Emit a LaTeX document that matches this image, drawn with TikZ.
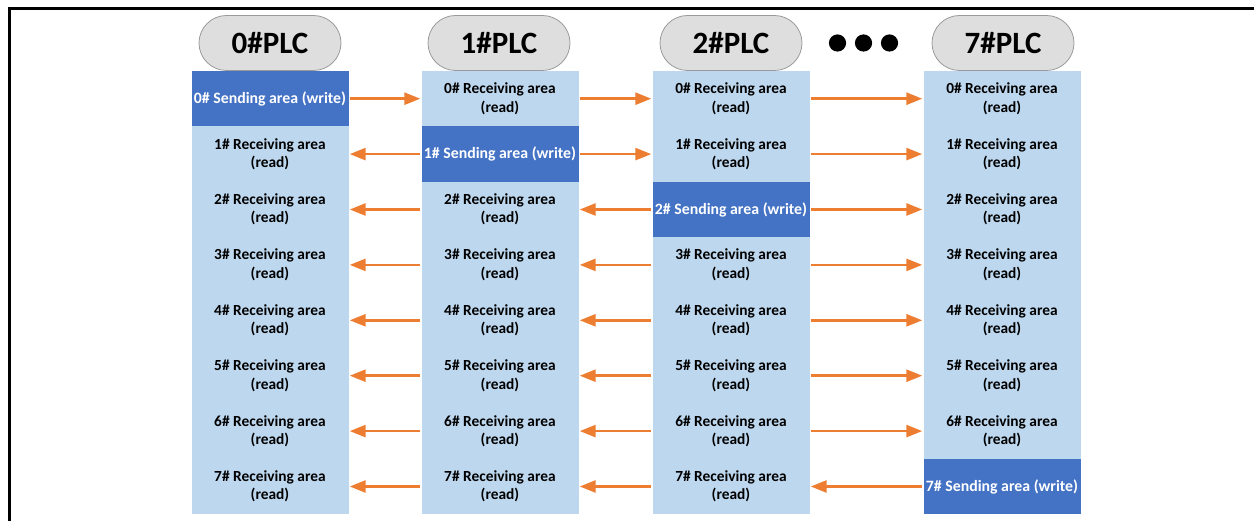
\documentclass[tikz,border=0pt]{standalone}
\usepackage{fontspec}
\setmainfont{Carlito}
\usetikzlibrary{arrows.meta,shapes.misc}
\definecolor{lightcell}{HTML}{BDD7EE}
\definecolor{darkcell}{HTML}{4472C4}
\definecolor{pillfill}{HTML}{DEDEDE}
\definecolor{pillline}{HTML}{9A9A9A}
\definecolor{arrorange}{HTML}{ED7D31}
\tikzset{
  cellbox/.style={rectangle, fill=lightcell, minimum width=157pt, minimum height=55.4pt,
    inner sep=0pt, align=center, text=black,
    font=\bfseries\fontsize{15.4}{18.4}\selectfont},
  sendbox/.style={cellbox, fill=darkcell, text=white,
    font=\bfseries\fontsize{15.8}{18.4}\selectfont},
  pill/.style={rounded rectangle, draw=pillline, line width=0.8pt, fill=pillfill,
    minimum width=142pt, minimum height=55pt, inner sep=0pt,
    font=\bfseries\fontsize{31}{34}\selectfont},
  arr/.style={draw=arrorange, line width=2.6pt, -{Triangle[length=16pt,width=12pt]}, shorten >=1pt, shorten <=1pt},
  frameline/.style={line width=3pt, black},
}
\begin{document}
\begin{tikzpicture}[x=1pt,y=-1pt]
\useasboundingbox (0,0) rectangle (1254,521);
\draw[frameline] (1254,9) -- (9,9) -- (9,521);
% columns
\foreach \c/\x in {0/270,1/500,2/731,3/1002}{
  \foreach \r in {0,...,7}{
    \pgfmathsetmacro{\yy}{71+55.4*(\r+0.5)}
    \pgfmathtruncatemacro{\lab}{\c==3 ? 7 : \c}
    \ifnum\r=\lab\relax
      \node[sendbox] (c\c r\r) at (\x,\yy) {\r\# Sending area (write)};
    \else
      \node[cellbox] (c\c r\r) at (\x,\yy) {\r\# Receiving area\\(read)};
    \fi
  }
}
% headers
\node[pill] (p0) at (270,43) {0\#PLC};
\node[pill] (p1) at (499,43) {1\#PLC};
\node[pill] (p2) at (731,43) {2\#PLC};
\node[pill] (p7) at (1003,43) {7\#PLC};
\fill (837.5,43) circle (8.6);
\fill (863.5,43) circle (8.6);
\fill (889.5,43) circle (8.6);
% arrows row 0
\draw[arr] (c0r0.east) -- (c1r0.west);
\draw[arr] (c1r0.east) -- (c2r0.west);
\draw[arr] (c2r0.east) -- (c3r0.west);
% row 1
\draw[arr] (c1r1.west) -- (c0r1.east);
\draw[arr] (c1r1.east) -- (c2r1.west);
\draw[arr] (c2r1.east) -- (c3r1.west);
% rows 2..6
\foreach \r in {2,...,6}{
  \draw[arr] (c1r\r.west) -- (c0r\r.east);
  \draw[arr] (c2r\r.west) -- (c1r\r.east);
  \draw[arr] (c2r\r.east) -- (c3r\r.west);
}
% row 7
\draw[arr] (c1r7.west) -- (c0r7.east);
\draw[arr] (c2r7.west) -- (c1r7.east);
\draw[arr] (c3r7.west) -- (c2r7.east);
\end{tikzpicture}
\end{document}
